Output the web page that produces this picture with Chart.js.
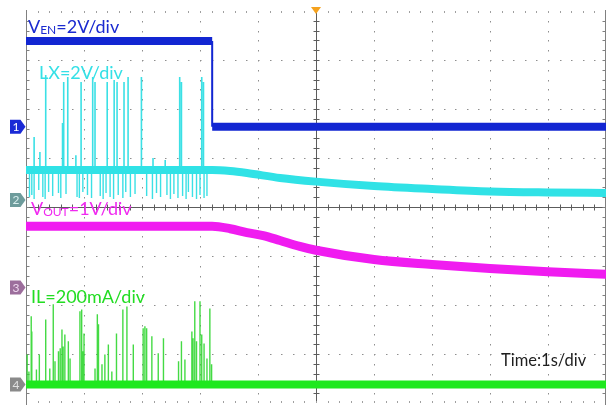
<!DOCTYPE html>
<html>
<head>
<meta charset="utf-8">
<script src="https://cdn.jsdelivr.net/npm/chart.js@4/dist/chart.umd.min.js"></script>
<style>
  html, body { margin: 0; padding: 0; background: #fff; overflow: hidden; }
  canvas { display: block; }
</style>
</head>
<body>
<canvas id="scope" width="610" height="414"></canvas>
<script>
// ---------- captured waveforms (time in s, trigger at t = 0, 1 s/div) ----------

// CH1: enable pin, volts
const venTime  = [-5, -1.79, 5];
const venLevel = [3.5, 0];           // before / after the falling edge

// CH2: switch node LX, volts (envelope of the switching band)
const lxTime  = [-5, -1.79, -1.48, -1.19, -0.62, 0, 1, 2, 3, 4, 5];
const lxVolts = [1.22, 1.22, 1.18, 1.10, 0.90, 0.75, 0.57, 0.45, 0.35, 0.31, 0.29];

// LX ringing spikes above the band: time (s), peak (V)
const lxUpTime = [-4.86, -4.76, -4.66, -4.37, -4.35, -4.28, -4.14, -4.05, -3.85, -3.81, -3.60,
                  -3.48, -3.43, -3.31, -3.24, -3.01, -2.81, -2.60, -2.35, -2.32, -1.97, -1.94];
const lxUpPeak = [2.57, 1.96, 5.10, 3.14, 4.82, 5.02, 1.83, 4.82, 5.02, 4.82, 4.82,
                  4.90, 4.82, 4.82, 5.02, 5.02, 1.71, 1.63, 5.02, 4.82, 5.02, 4.82];

// LX dips below the band: time (s), lowest value (V)
const lxDownTime = [-4.94, -4.90, -4.86, -4.78, -4.71, -4.67, -4.61, -4.54, -4.44, -4.40, -4.31,
                    -4.12, -4.08, -4.02, -3.94, -3.87, -3.72, -3.67, -3.62, -3.55, -3.49, -3.41,
                    -3.33, -3.28, -3.20, -3.12, -2.92, -2.82, -2.75, -2.68, -2.57, -2.51, -2.45,
                    -2.38, -2.30, -2.24, -2.20, -2.13, -2.06, -2.00, -1.93, -1.88];
const lxDownLow  = [0.12, 0.20, 0.04, 0.41, 0.12, 0.04, 0.33, 0.16, 0.29, 0.08, 0.24,
                    0.12, 0.08, 0.33, 0.20, 0.08, 0.16, 0.04, 0.29, 0.12, 0.04, 0.20,
                    0.08, 0.33, 0.12, 0.24, 0.16, 0.04, 0.29, 0.12, 0.20, 0.04, 0.24,
                    0.08, 0.16, 0.04, 0.33, 0.12, 0.04, 0.20, 0.08, 0.16];

// CH3: output voltage, volts
const voutTime  = [-5, -1.79, -1.48, -1.19, -0.91, -0.62, -0.28, 0, 1, 2, 3, 4, 5];
const voutVolts = [1.25, 1.25, 1.20, 1.12, 1.06, 0.96, 0.84, 0.76, 0.57, 0.47, 0.39, 0.32, 0.27];

// CH4: inductor current, mA (baseline, then pulses)
const ilTime = [-5, 5];
const ilBase = [0, 0];
const ilPulseTime = [-4.98, -4.95, -4.91, -4.90, -4.82, -4.77, -4.66, -4.59, -4.53, -4.50, -4.44,
                     -4.41, -4.38, -4.36, -4.33, -4.27, -4.24, -4.07, -4.04, -4.02, -4.00, -3.81,
                     -3.77, -3.75, -3.69, -3.64, -3.58, -3.52, -3.44, -3.33, -3.26, -3.15, -2.98,
                     -2.95, -2.92, -2.83, -2.72, -2.63, -2.37, -2.32, -2.26, -2.14, -2.12, -2.09,
                     -2.06, -2.00, -1.97, -1.93, -1.88, -1.83, -1.80];
const ilPulsePeak = [122, 53, 278, 216, 61, 122, 265, 65, 327, 94, 135,
                     147, 224, 155, 204, 176, 106, 298, 306, 135, 208, 65,
                     286, 245, 82, 122, 163, 53, 208, 306, 318, 163, 229,
                     237, 229, 196, 127, 188, 94, 176, 102, 216, 188, 339,
                     176, 339, 204, 167, 106, 310, 82];

// ---------- channel setup: units per division, ground marker position in divisions ----------
const channels = {
  ven:  { perDiv: 2,   zero: 1.64,   color: '#1226d2', marker: '#1a2ad6', markerText: '#ffffff', label: '1' },
  lx:   { perDiv: 2,   zero: 0.143,  color: '#30e2e6', marker: '#6e9c9c', markerText: '#d8eeee', label: '2' },
  vout: { perDiv: 1,   zero: -1.643, color: '#f01cf0', marker: '#9c6e9c', markerText: '#eed8ee', label: '3' },
  il:   { perDiv: 200, zero: -3.62,  color: '#1ee81e', marker: '#8a8a8a', markerText: '#e0e0e0', label: '4' }
};

const toDiv = (ch, v) => ch.zero + v / ch.perDiv;
const trace = (ch, ts, vs) => ts.map((t, i) => ({ x: t, y: toDiv(ch, vs[i]) }));
const spikes = (ch, ts, base, peaks) => {
  const pts = [];
  ts.forEach((t, i) => {
    pts.push({ x: t, y: toDiv(ch, base) }, { x: t, y: toDiv(ch, peaks[i]) }, { x: t, y: null });
  });
  return pts;
};

const C = channels;
const lxBand = lxVolts[0];

const datasets = [
  // IL
  { data: spikes(C.il, ilPulseTime, 0, ilPulsePeak), borderColor: 'rgba(48,214,48,0.9)', borderWidth: 1.4 },
  { data: trace(C.il, ilTime, ilBase), borderColor: C.il.color, borderWidth: 8 },
  // VOUT
  { data: trace(C.vout, voutTime, voutVolts), borderColor: C.vout.color, borderWidth: 9, cubicInterpolationMode: 'monotone' },
  // LX
  { data: spikes(C.lx, lxDownTime, lxBand, lxDownLow), borderColor: 'rgba(48,222,228,0.95)', borderWidth: 1.4 },
  { data: spikes(C.lx, lxUpTime, lxBand, lxUpPeak), borderColor: 'rgba(48,222,228,0.95)', borderWidth: 1.6 },
  { data: trace(C.lx, lxTime, lxVolts), borderColor: C.lx.color, borderWidth: 8, cubicInterpolationMode: 'monotone' },
  // VEN: two flat levels joined by a thin falling edge
  { data: trace(C.ven, [venTime[0], venTime[1]], [venLevel[0], venLevel[0]]), borderColor: C.ven.color, borderWidth: 8 },
  { data: trace(C.ven, [venTime[1], venTime[1]], [venLevel[0], venLevel[1]]), borderColor: C.ven.color, borderWidth: 2 },
  { data: trace(C.ven, [venTime[1], venTime[2]], [venLevel[1], venLevel[1]]), borderColor: C.ven.color, borderWidth: 8 }
].map((d, i) => Object.assign({
  pointRadius: 0, tension: 0, fill: false, spanGaps: false,
  borderCapStyle: 'butt', order: -i
}, d));

// ---------- oscilloscope graticule ----------
const graticule = {
  id: 'graticule',
  beforeDatasetsDraw(chart) {
    const { ctx, chartArea: a, scales: { x, y } } = chart;
    ctx.save();
    const minor = 0.2;
    // dotted interior divisions
    ctx.fillStyle = '#8e8e8e';
    for (let i = -4; i <= 4; i++) {
      if (i === 0) continue;
      const px = Math.round(x.getPixelForValue(i));
      for (let v = -4 + minor; v < 4; v += minor) {
        ctx.fillRect(px, Math.round(y.getPixelForValue(v)), 1, 1.5);
      }
    }
    for (let j = -3; j <= 3; j++) {
      if (j === 0) continue;
      const py = Math.round(y.getPixelForValue(j));
      for (let v = -5 + minor; v < 5; v += minor) {
        ctx.fillRect(Math.round(x.getPixelForValue(v)), py, 1.5, 1);
      }
    }
    // centre cross with minor ticks
    const x0 = Math.round(x.getPixelForValue(0)) + 0.5;
    const y0 = Math.round(y.getPixelForValue(0)) + 0.5;
    ctx.strokeStyle = '#5c5c5c';
    ctx.lineWidth = 1;
    ctx.beginPath();
    ctx.moveTo(x0, a.top); ctx.lineTo(x0, a.bottom);
    ctx.moveTo(a.left, y0); ctx.lineTo(a.right, y0);
    for (let v = -4 + minor; v < 4; v += minor) {
      const py = Math.round(y.getPixelForValue(v)) + 0.5;
      ctx.moveTo(x0 - 3, py); ctx.lineTo(x0 + 3, py);
    }
    for (let v = -5 + minor; v < 5; v += minor) {
      const px = Math.round(x.getPixelForValue(v)) + 0.5;
      ctx.moveTo(px, y0 - 3); ctx.lineTo(px, y0 + 3);
    }
    ctx.stroke();
    // frame: solid sides, ticked top and bottom
    ctx.strokeStyle = '#808080';
    ctx.beginPath();
    const xl = Math.round(a.left) + 0.5, xr = Math.round(a.right) - 0.5;
    ctx.moveTo(xl, a.top - 1); ctx.lineTo(xl, a.bottom + 2);
    ctx.moveTo(xr, a.top - 1); ctx.lineTo(xr, a.bottom + 2);
    for (let v = -4 + minor; v < 4; v += minor) {
      const py = Math.round(y.getPixelForValue(v)) + 0.5;
      ctx.moveTo(xl, py); ctx.lineTo(xl + 3, py);
      ctx.moveTo(xr - 3, py); ctx.lineTo(xr, py);
    }
    ctx.stroke();
    ctx.strokeStyle = '#a0a0a0';
    ctx.beginPath();
    for (let v = -5 + minor; v < 5; v += minor) {
      const px = Math.round(x.getPixelForValue(v)) + 0.5;
      ctx.moveTo(px, a.top); ctx.lineTo(px, a.top + 2);
      ctx.moveTo(px, a.bottom - 2); ctx.lineTo(px, a.bottom);
    }
    ctx.stroke();
    ctx.restore();
  }
};

// ---------- channel markers, trigger marker and annotations ----------
const FONT = 'Lato, "Open Sans", sans-serif';

function drawRich(ctx, x, y, parts, color) {
  ctx.fillStyle = color;
  ctx.textBaseline = 'alphabetic';
  ctx.textAlign = 'left';
  let cx = x;
  parts.forEach(p => {
    ctx.font = p.size + 'px ' + FONT;
    ctx.fillText(p.t, cx, y + (p.dy || 0));
    cx += ctx.measureText(p.t).width;
  });
}

const overlays = {
  id: 'overlays',
  afterDraw(chart) {
    const { ctx, chartArea: a, scales: { x, y } } = chart;
    ctx.save();
    // trigger position
    const tx = x.getPixelForValue(0);
    ctx.fillStyle = '#f5a21e';
    ctx.beginPath();
    ctx.moveTo(tx - 5, a.top - 4); ctx.lineTo(tx + 5, a.top - 4); ctx.lineTo(tx, a.top + 3);
    ctx.closePath(); ctx.fill();

    // channel ground markers
    Object.values(channels).forEach(ch => {
      const cy = y.getPixelForValue(ch.zero);
      const l = 10, r = a.left - 0.5, h = 7;
      ctx.fillStyle = ch.marker;
      ctx.beginPath();
      ctx.moveTo(l, cy - h); ctx.lineTo(r - 5, cy - h); ctx.lineTo(r, cy);
      ctx.lineTo(r - 5, cy + h); ctx.lineTo(l, cy + h); ctx.closePath(); ctx.fill();
      ctx.fillStyle = ch.markerText;
      ctx.font = '12px ' + FONT;
      ctx.textAlign = 'center'; ctx.textBaseline = 'middle';
      ctx.fillText(ch.label, l + 6, cy + 0.5);
    });

    // scale annotations
    drawRich(ctx, 28, 33, [{ t: 'V', size: 18 }, { t: 'EN', size: 12, dy: 0.5 }, { t: '=2V/div', size: 18 }], '#1a2ad0');
    drawRich(ctx, 39, 79, [{ t: 'LX=2V/div', size: 18 }], '#34e0e6');
    drawRich(ctx, 31, 215, [{ t: 'V', size: 18 }, { t: 'OUT', size: 12, dy: 0.5 }, { t: '=1V/div', size: 18 }], '#f02af0');
    drawRich(ctx, 31, 303, [{ t: 'IL=200mA/div', size: 18 }], '#22dd22');
    drawRich(ctx, 501, 366, [{ t: 'Time:1s/div', size: 16.5 }], '#1e1e1e');
    ctx.restore();
  }
};

new Chart(document.getElementById('scope'), {
  type: 'line',
  data: { datasets },
  options: {
    responsive: false,
    animation: false,
    events: [],
    layout: { padding: { left: 26, right: 4, top: 11, bottom: 11 } },
    scales: {
      x: { type: 'linear', min: -5, max: 5, display: false },
      y: { type: 'linear', min: -4, max: 4, display: false }
    },
    plugins: { legend: { display: false }, tooltip: { enabled: false } }
  },
  plugins: [graticule, overlays]
});
</script>
</body>
</html>
